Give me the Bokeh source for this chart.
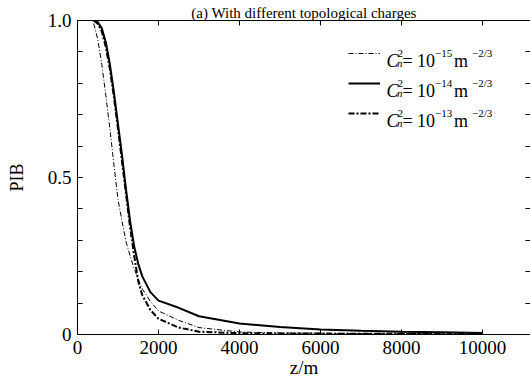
from bokeh.plotting import figure
from bokeh.models import Range1d, FixedTicker, LinearAxis, Legend, LegendItem, Label
from bokeh.embed import file_html
from bokeh.resources import INLINE

# ---------------- data ----------------
z = [400, 500, 600, 700, 800, 900, 1000, 1100, 1200, 1300, 1400, 1500, 1600,
     1800, 2000, 2500, 3000, 4000, 5000, 6000, 7000, 8000, 9000, 10000]
pib_15 = [0.99, 0.94, 0.86, 0.76, 0.655, 0.54, 0.43, 0.36, 0.295, 0.25, 0.21, 0.175, 0.145,
          0.105, 0.075, 0.045, 0.022, 0.008, 0.005, 0.004, 0.003, 0.003, 0.002, 0.002]
pib_14 = [1.0, 0.995, 0.975, 0.93, 0.86, 0.77, 0.67, 0.57, 0.46, 0.36, 0.28, 0.225, 0.185,
          0.135, 0.108, 0.085, 0.058, 0.035, 0.024, 0.016, 0.012, 0.009, 0.007, 0.005]
pib_13 = [1.0, 0.99, 0.965, 0.915, 0.845, 0.755, 0.655, 0.55, 0.445, 0.34, 0.25, 0.17, 0.125,
          0.078, 0.05, 0.022, 0.009, 0.004, 0.003, 0.003, 0.002, 0.002, 0.002, 0.002]
series_exp = ["\u221215", "\u221214", "\u221213"]
x_ticks = [0, 2000, 4000, 6000, 8000, 10000]
y_major = [0, 0.5, 1.0]
y_minor = [0.0, 0.1, 0.2, 0.3, 0.4, 0.5, 0.6, 0.7, 0.8, 0.9, 1.0]
title_text = "(a) With different topological charges"
x_label = "z/m"
y_label = "PIB"

FONT = "Liberation Serif"

p = figure(width=530, height=386, output_backend="svg", toolbar_location=None,
           x_range=Range1d(0, 11185), y_range=Range1d(0, 1.0),
           min_border_left=77, min_border_right=0, min_border_top=20, min_border_bottom=52)
p.outline_line_color = None
p.xgrid.visible = False
p.ygrid.visible = False
p.background_fill_color = "white"
p.border_fill_color = "white"

# bottom axis
xa = p.xaxis[0]
xa.ticker = FixedTicker(ticks=x_ticks)
xa.major_tick_in = 5
xa.major_tick_out = 0
xa.minor_tick_in = 0
xa.minor_tick_out = 0
xa.major_label_text_font = FONT
xa.major_label_text_font_size = "19px"
xa.major_label_text_color = "black"
xa.major_label_standoff = 6
xa.axis_line_color = "black"
xa.major_tick_line_color = "black"
xa.axis_label = x_label
xa.axis_label_text_font = FONT
xa.axis_label_text_font_size = "19px"
xa.axis_label_text_font_style = "normal"
xa.axis_label_text_color = "black"
xa.axis_label_standoff = 0

# left axis
ya = p.yaxis[0]
ya.ticker = FixedTicker(ticks=y_major, minor_ticks=y_minor)
ya.major_tick_in = 5
ya.major_tick_out = 0
ya.minor_tick_in = 5
ya.minor_tick_out = 0
ya.major_label_overrides = {0: "0", 1: "1.0"}
ya.major_label_text_font = FONT
ya.major_label_text_font_size = "19px"
ya.major_label_text_color = "black"
ya.major_label_standoff = 6
ya.axis_label = y_label
ya.axis_label_text_font = FONT
ya.axis_label_text_font_size = "18px"
ya.axis_label_text_font_style = "normal"
ya.axis_label_text_color = "black"
ya.axis_label_standoff = 18
ya.axis_line_color = "black"
ya.major_tick_line_color = "black"
ya.minor_tick_line_color = "black"

# top axis (ticks only) carrying the title text
top = LinearAxis(ticker=FixedTicker(ticks=[], minor_ticks=x_ticks))
top.minor_tick_in = 5
top.minor_tick_out = 0
top.major_tick_in = 0
top.major_tick_out = 0
top.major_label_standoff = 0
top.axis_line_color = "black"
top.minor_tick_line_color = "black"
top.axis_label = title_text
top.axis_label_text_font = FONT
top.axis_label_text_font_size = "15px"
top.axis_label_text_font_style = "normal"
top.axis_label_text_color = "black"
top.axis_label_standoff = 0
p.add_layout(top, "above")

# right axis (ticks only; its line falls at the window edge)
right = LinearAxis(ticker=FixedTicker(ticks=[], minor_ticks=y_minor))
right.minor_tick_in = 5
right.minor_tick_out = 0
right.major_tick_in = 0
right.major_tick_out = 0
right.major_label_standoff = 0
right.axis_line_color = None
right.minor_tick_line_color = "black"
p.add_layout(right, "right")

# curves
r15 = p.line(z, pib_15, line_color="black", line_width=1, line_dash="5 2 1 2")
r14 = p.line(z, pib_14, line_color="black", line_width=2)
r13 = p.line(z, pib_13, line_color="black", line_width=2, line_dash="6 2 2 2")

FB = 334  # frame bottom, page px
FL = 77   # frame left, page px
row_centers = [FB - 53.3, FB - 83.3, FB - 113.3]  # frame-relative, from bottom

for r, yc in zip([r15, r14, r13], row_centers):
    lg = Legend(items=[LegendItem(label=" ", renderers=[r])],
                location=(348 - FL, yc - 10), orientation="vertical",
                glyph_width=32, glyph_height=20, spacing=0, padding=0, margin=0,
                label_width=0, label_height=20, label_standoff=0,
                label_text_font_size="10px",
                border_line_alpha=0, background_fill_alpha=0)
    p.add_layout(lg)

def lab(x, y, text, size, style="normal"):
    p.add_layout(Label(x=x - FL, y=y, x_units="screen", y_units="screen", text=text,
                       text_font=FONT, text_font_size=size, text_font_style=style,
                       text_color="black", text_baseline="alphabetic", text_align="left"))

for yc, ex in zip(row_centers, series_exp):
    lab(386, yc - 7, "C", "18px", "italic")
    lab(396.5, yc - 9, "n", "11px", "italic")
    lab(397, yc + 0.5, "2", "11px")
    lab(402, yc - 7, "=", "18px")
    lab(416.5, yc - 7, "10", "18px")
    lab(434.5, yc + 0.5, ex, "11px")
    lab(453.5, yc - 7, "m", "18px")
    lab(471.5, yc + 0.5, "\u22122/3", "11px")

open("out.html", "w").write(file_html(p, INLINE))
